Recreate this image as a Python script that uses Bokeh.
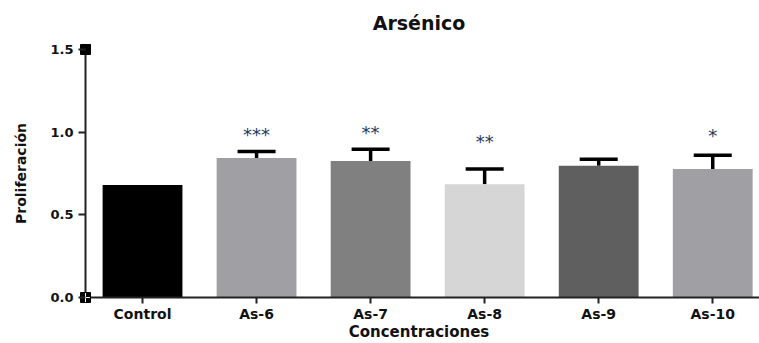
from bokeh.plotting import figure
from bokeh.models import (ColumnDataSource, Whisker, TeeHead, Range1d, FixedTicker,
                          NumeralTickFormatter)
from bokeh.embed import file_html
from bokeh.resources import INLINE
from bokeh.core.properties import value

# Proliferation per arsenic concentration (mean and SEM)
categories = ["Control", "As-6", "As-7", "As-8", "As-9", "As-10"]
means = [0.68, 0.843, 0.825, 0.685, 0.797, 0.777]
sems = [0.0, 0.04, 0.072, 0.092, 0.039, 0.084]
bar_colors = ["#000000", "#a0a0a4", "#808080", "#d6d6d6", "#5f5f5f", "#a0a0a4"]

# Significance marks
star_cats = ["As-6", "As-7", "As-8", "As-10"]
star_text = ["***", "**", "**", "*"]
star_heights = [1.0, 1.01, 0.957, 0.994]

y_ticks = [0.0, 0.5, 1.0, 1.5]
y_min, y_max = y_ticks[0], y_ticks[-1]

FONT = "DejaVu Sans"
xs = list(range(len(categories)))
x_start, x_end = -0.5614, 5.41
axis_x = -0.5

p = figure(width=759, height=343, output_backend="svg", toolbar_location=None,
           x_range=Range1d(x_start, x_end), y_range=Range1d(-0.036, 1.536),
           min_border_left=78, min_border_right=0, min_border_top=43,
           min_border_bottom=39, title="Arsénico")

p.title.align = "center"
p.title.vertical_align = "top"
p.title.text_font = FONT
p.title.text_font_size = "19px"
p.title.text_font_style = "bold"
p.title.text_color = "#111111"
p.title.text_line_height = 0.7
p.title.standoff = 16

p.vbar(x=xs, top=means, width=0.7, fill_color=bar_colors, line_color=None)

# upper-only error bars
err_idx = [i for i in xs if sems[i] > 0]
err_src = ColumnDataSource(dict(
    x=[xs[i] for i in err_idx],
    lower=[means[i] for i in err_idx],
    upper=[means[i] + sems[i] for i in err_idx],
))
p.add_layout(Whisker(base="x", lower="lower", upper="upper", source=err_src,
                     line_width=3.5, line_color="black",
                     upper_head=TeeHead(size=38, line_width=3.5, line_color="black"),
                     lower_head=None))

p.text(x=[categories.index(c) for c in star_cats], y=star_heights, text=star_text,
       text_align="center", text_baseline="middle", y_offset=2,
       text_font=value(FONT), text_font_size="18px", text_color="#253a5e")

# axis lines drawn in data space, with end markers on the y axis
p.segment(x0=[axis_x, axis_x], y0=[y_min, y_min], x1=[axis_x, x_end], y1=[y_max, y_min],
          line_color="#222222", line_width=2)
p.scatter(x=[axis_x, axis_x], y=[y_min, y_max], marker="square", size=10,
          fill_color="black", line_color="black")
p.scatter(x=[axis_x], y=[y_min], marker="cross", size=9, line_color="white",
          line_width=1)

p.xgrid.visible = False
p.ygrid.visible = False
p.outline_line_color = None

p.xaxis.ticker = FixedTicker(ticks=xs)
p.xaxis.major_label_overrides = {i: c for i, c in zip(xs, categories)}
p.yaxis.ticker = FixedTicker(ticks=y_ticks)
p.yaxis.formatter = NumeralTickFormatter(format="0.0")

for ax in (p.xaxis[0], p.yaxis[0]):
    ax.axis_line_color = None
    ax.major_tick_line_width = 2
    ax.major_tick_line_color = "#222222"
    ax.major_tick_out = 0
    ax.minor_tick_line_color = None
    ax.major_label_text_font = FONT
    ax.major_label_text_font_style = "bold"
    ax.major_label_text_color = "#111111"
    ax.axis_label_text_font = FONT
    ax.axis_label_text_font_style = "bold"
    ax.axis_label_text_color = "#111111"
    ax.axis_label_text_line_height = 1.0
    ax.major_label_text_line_height = 1.0

p.xaxis.major_tick_in = 6
p.xaxis.major_label_standoff = 2
p.xaxis.major_label_text_font_size = "14px"
p.xaxis.axis_label = "Concentraciones"
p.xaxis.axis_label_text_font_size = "15px"
p.xaxis.axis_label_standoff = -2

p.yaxis.major_tick_in = 7
p.yaxis.major_label_standoff = 5
p.yaxis.major_label_text_font_size = "13px"
p.yaxis.axis_label = "Proliferación"
p.yaxis.axis_label_text_font_size = "14px"
p.yaxis.axis_label_standoff = 18

open("out.html", "w").write(file_html(p, INLINE))
